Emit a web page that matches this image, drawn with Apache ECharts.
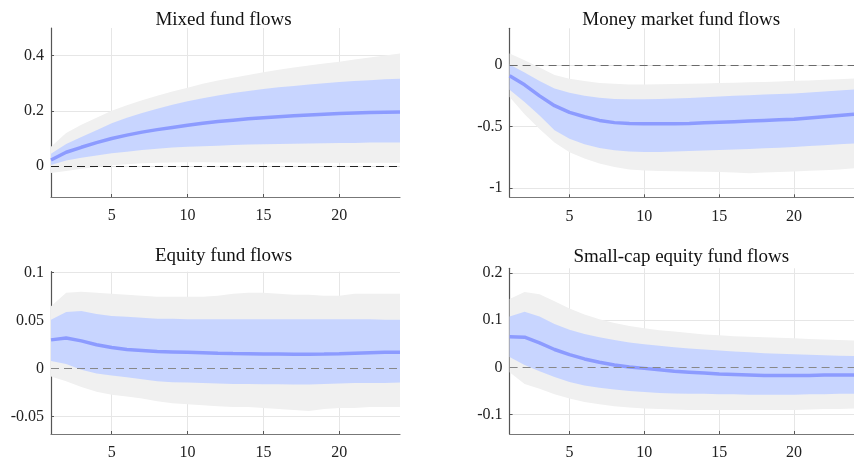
<!DOCTYPE html>
<html>
<head>
<meta charset="utf-8">
<script src="https://cdn.jsdelivr.net/npm/echarts@6/dist/echarts.min.js"></script>
<style>
html,body{margin:0;padding:0;background:#fff;}
#chart{width:854px;height:461px;}
</style>
</head>
<body>
<div id="chart"></div>
<script>
// ---------- data ----------
const horizons = [1,2,3,4,5,6,7,8,9,10,11,12,13,14,15,16,17,18,19,20,21,22,23,24];
const xTickLabels = [5,10,15,20];

const titles = ["Mixed fund flows","Money market fund flows","Equity fund flows","Small-cap equity fund flows"];

// Mixed fund flows
const mixedMedian    = [0.022,0.05,0.068,0.085,0.1,0.112,0.123,0.132,0.14,0.148,0.155,0.161,0.166,0.171,0.175,0.179,0.182,0.185,0.188,0.19,0.192,0.194,0.195,0.196];
const mixedInnerLow  = [0.004,0.02,0.03,0.038,0.046,0.052,0.058,0.063,0.067,0.07,0.072,0.074,0.076,0.078,0.079,0.08,0.081,0.082,0.083,0.084,0.084,0.085,0.085,0.085];
const mixedInnerHigh = [0.045,0.08,0.105,0.13,0.155,0.175,0.192,0.208,0.222,0.235,0.246,0.256,0.265,0.272,0.279,0.285,0.29,0.295,0.3,0.304,0.308,0.311,0.314,0.316];
const mixedOuterLow  = [-0.025,-0.018,-0.01,-0.003,0.003,0.007,0.01,0.012,0.013,0.014,0.014,0.013,0.013,0.013,0.013,0.013,0.013,0.012,0.012,0.012,0.012,0.012,0.012,0.012];
const mixedOuterHigh = [0.07,0.12,0.15,0.175,0.2,0.22,0.238,0.255,0.27,0.284,0.298,0.31,0.32,0.33,0.34,0.349,0.357,0.364,0.371,0.378,0.386,0.393,0.4,0.408];
const mixedTicks = [0,0.2,0.4];

// Money market fund flows
const mmMedian    = [-0.087,-0.16,-0.25,-0.33,-0.385,-0.42,-0.45,-0.468,-0.475,-0.478,-0.478,-0.477,-0.475,-0.47,-0.465,-0.46,-0.455,-0.45,-0.445,-0.44,-0.43,-0.42,-0.41,-0.4];
const mmInnerLow  = [-0.2,-0.3,-0.41,-0.53,-0.6,-0.645,-0.675,-0.693,-0.703,-0.707,-0.707,-0.704,-0.7,-0.695,-0.69,-0.686,-0.682,-0.677,-0.672,-0.666,-0.659,-0.652,-0.645,-0.637];
const mmInnerHigh = [0.005,-0.06,-0.13,-0.19,-0.225,-0.25,-0.265,-0.275,-0.278,-0.277,-0.275,-0.272,-0.268,-0.262,-0.256,-0.25,-0.245,-0.24,-0.235,-0.23,-0.222,-0.215,-0.206,-0.198];
const mmOuterLow  = [-0.26,-0.4,-0.52,-0.63,-0.71,-0.76,-0.8,-0.83,-0.85,-0.858,-0.862,-0.864,-0.866,-0.868,-0.87,-0.875,-0.88,-0.875,-0.87,-0.865,-0.86,-0.855,-0.85,-0.84];
const mmOuterHigh = [0.095,0.04,-0.02,-0.08,-0.11,-0.13,-0.145,-0.152,-0.157,-0.157,-0.156,-0.154,-0.152,-0.149,-0.146,-0.143,-0.14,-0.137,-0.133,-0.128,-0.124,-0.119,-0.114,-0.108];
const mmTicks = [-1,-0.5,0];

// Equity fund flows
const eqMedian    = [0.03,0.032,0.029,0.025,0.022,0.02,0.019,0.018,0.0175,0.017,0.0165,0.016,0.0157,0.0155,0.0153,0.0152,0.0151,0.015,0.0152,0.0155,0.016,0.0165,0.017,0.017];
const eqInnerLow  = [0.008,0.005,-0.001,-0.005,-0.007,-0.009,-0.011,-0.013,-0.014,-0.0145,-0.015,-0.0155,-0.016,-0.016,-0.0162,-0.0163,-0.0165,-0.0165,-0.016,-0.0155,-0.015,-0.015,-0.0148,-0.0145];
const eqInnerHigh = [0.051,0.059,0.06,0.057,0.055,0.054,0.053,0.052,0.052,0.0515,0.0515,0.0515,0.0515,0.0515,0.0515,0.0515,0.0515,0.0515,0.0515,0.0515,0.0515,0.0515,0.051,0.051];
const eqOuterLow  = [-0.008,-0.013,-0.019,-0.024,-0.027,-0.029,-0.031,-0.034,-0.036,-0.037,-0.038,-0.039,-0.04,-0.04,-0.041,-0.042,-0.043,-0.044,-0.042,-0.041,-0.041,-0.04,-0.04,-0.04];
const eqOuterHigh = [0.065,0.079,0.08,0.079,0.078,0.077,0.076,0.075,0.075,0.075,0.075,0.076,0.078,0.079,0.079,0.078,0.077,0.077,0.076,0.076,0.078,0.078,0.078,0.078];
const eqTicks = [-0.05,0,0.05,0.1];

// Small-cap equity fund flows
const scMedian    = [0.065,0.064,0.052,0.038,0.027,0.018,0.011,0.005,0.001,-0.002,-0.005,-0.008,-0.01,-0.012,-0.014,-0.015,-0.016,-0.017,-0.017,-0.017,-0.017,-0.016,-0.016,-0.016];
const scInnerLow  = [0.022,0.005,-0.008,-0.02,-0.031,-0.038,-0.043,-0.047,-0.05,-0.052,-0.054,-0.055,-0.056,-0.056,-0.057,-0.057,-0.058,-0.058,-0.058,-0.058,-0.057,-0.057,-0.056,-0.056];
const scInnerHigh = [0.108,0.118,0.108,0.092,0.08,0.071,0.064,0.058,0.053,0.049,0.046,0.043,0.04,0.038,0.036,0.034,0.032,0.03,0.029,0.028,0.027,0.026,0.025,0.024];
const scOuterLow  = [-0.01,-0.035,-0.045,-0.057,-0.066,-0.073,-0.078,-0.082,-0.085,-0.087,-0.088,-0.089,-0.09,-0.09,-0.09,-0.09,-0.09,-0.09,-0.09,-0.09,-0.089,-0.088,-0.088,-0.087];
const scOuterHigh = [0.145,0.16,0.155,0.14,0.125,0.112,0.102,0.094,0.088,0.083,0.079,0.076,0.073,0.07,0.068,0.066,0.065,0.064,0.063,0.062,0.06,0.059,0.058,0.057];
const scTicks = [-0.1,0,0.1,0.2];

// ---------- layout / style ----------
const panels = [
  {title: titles[0], med: mixedMedian, il: mixedInnerLow, ih: mixedInnerHigh, ol: mixedOuterLow, oh: mixedOuterHigh, ticks: mixedTicks, min: -0.112, max: 0.5, zero: '#222',
   grid: {left: 51, top: 28, width: 349, height: 169}, titleTop: 6},
  {title: titles[1], med: mmMedian, il: mmInnerLow, ih: mmInnerHigh, ol: mmOuterLow, oh: mmOuterHigh, ticks: mmTicks, min: -1.076, max: 0.3, zero: '#6a6a6a',
   grid: {left: 509.6, top: 28.3, width: 347.4, height: 169}, titleTop: 6},
  {title: titles[2], med: eqMedian, il: eqInnerLow, ih: eqInnerHigh, ol: eqOuterLow, oh: eqOuterHigh, ticks: eqTicks, min: -0.068, max: 0.101, zero: '#888',
   grid: {left: 51, top: 271.7, width: 349, height: 164.3}, titleTop: 242},
  {title: titles[3], med: scMedian, il: scInnerLow, ih: scInnerHigh, ol: scOuterLow, oh: scOuterHigh, ticks: scTicks, min: -0.141, max: 0.21, zero: '#888',
   grid: {left: 509.6, top: 268.3, width: 347.4, height: 167.7}, titleTop: 243}
];

const FONT = '"Liberation Serif", "DejaVu Serif", serif';
const OUTER = '#f0f0f0', INNER = '#c8d5ff', LINE = '#8c9bff', GRIDC = '#e6e6e6';
const xShow = (idx, val) => xTickLabels.includes(Number(val));

const option = {
  animation: false,
  backgroundColor: '#fff',
  title: [], grid: [], xAxis: [], yAxis: [], series: []
};

panels.forEach((p, i) => {
  const g = p.grid;
  option.grid.push({left: g.left, top: g.top, width: g.width, height: g.height, containLabel: false});
  option.title.push({
    text: p.title, left: g.left + g.width / 2 - 7, top: p.titleTop, textAlign: 'center',
    textStyle: {fontFamily: FONT, fontSize: 19, fontWeight: 'normal', color: '#111'}
  });
  option.xAxis.push({
    gridIndex: i, type: 'category', data: horizons.map(String), boundaryGap: false,
    axisLine: {show: true, onZero: false, lineStyle: {color: '#777', width: 1.2}},
    axisTick: {show: true, inside: true, length: 3, interval: xShow, lineStyle: {color: '#555'}},
    axisLabel: {interval: xShow, fontFamily: FONT, fontSize: 16, color: '#222', margin: 11},
    splitLine: {show: true, interval: xShow, lineStyle: {color: GRIDC, width: 1}}
  });
  option.yAxis.push({
    gridIndex: i, type: 'value', min: p.min, max: p.max,
    axisLine: {show: true, lineStyle: {color: '#555', width: 1.2}},
    axisTick: {show: true, inside: true, length: 3, customValues: p.ticks, lineStyle: {color: '#555'}},
    axisLabel: {customValues: p.ticks, formatter: v => String(v), fontFamily: FONT, fontSize: 16, color: '#222', margin: 7},
    splitLine: {show: true, lineStyle: {color: GRIDC, width: 1}}
  });
  const base = {xAxisIndex: i, yAxisIndex: i, type: 'line', symbol: 'none', silent: true, stackStrategy: 'all'};
  option.series.push(Object.assign({}, base, {
    name: 'ol' + i, stack: 'outer' + i, data: p.ol, lineStyle: {opacity: 0}
  }));
  option.series.push(Object.assign({}, base, {
    name: 'ob' + i, stack: 'outer' + i, data: p.oh.map((v, k) => v - p.ol[k]),
    lineStyle: {opacity: 0}, areaStyle: {color: OUTER, opacity: 1}
  }));
  option.series.push(Object.assign({}, base, {
    name: 'il' + i, stack: 'inner' + i, data: p.il, lineStyle: {opacity: 0}
  }));
  option.series.push(Object.assign({}, base, {
    name: 'ib' + i, stack: 'inner' + i, data: p.ih.map((v, k) => v - p.il[k]),
    lineStyle: {opacity: 0}, areaStyle: {color: INNER, opacity: 1},
    markLine: {silent: true, symbol: ['none', 'none'], label: {show: false},
      lineStyle: {type: [8, 5], color: p.zero, width: 1}, data: [{yAxis: 0}]}
  }));
  option.series.push(Object.assign({}, base, {
    name: 'med' + i, data: p.med, stackStrategy: undefined,
    lineStyle: {color: LINE, width: 3.5}
  }));
});

const chart = echarts.init(document.getElementById('chart'), null, {renderer: 'canvas'});
chart.setOption(option);
</script>
</body>
</html>
